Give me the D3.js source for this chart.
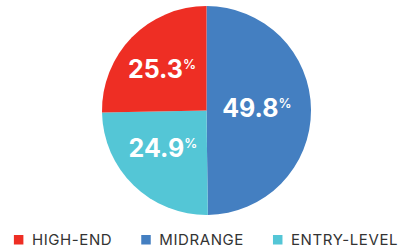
<!DOCTYPE html>
<html>
<head>
<meta charset="utf-8">
<script src="https://cdn.jsdelivr.net/npm/d3@7"></script>
<style>
	body { margin: 0; background: #fff; }
	svg { display: block; font-family: Inter, 'Noto Sans', sans-serif; }
</style>
</head>
<body>
<svg width="412" height="252"></svg>
<script>
const categories = ['MIDRANGE', 'ENTRY-LEVEL', 'HIGH-END']
const shares = [49.8, 24.9, 25.3]
const colors = ['#447fc1', '#54c6d6', '#ee2e24']
const legendOrder = ['HIGH-END', 'MIDRANGE', 'ENTRY-LEVEL']

const svg = d3.select('svg')
const width = 412
const cx = 206.5, cy = 110.5, r = 104.5

const color = d3.scaleOrdinal().domain(categories).range(colors)

const data = categories.map((c, i) => ({name: c, value: shares[i]}))

const pie = d3.pie()
	.sort(null)
	.value(d => d.value)

const arc = d3.arc().innerRadius(0).outerRadius(r)
const labelArc = d3.arc().innerRadius(0).outerRadius(r * 1.06)

const g = svg.append('g').attr('transform', `translate(${cx},${cy})`)

const arcs = pie(data)

g.selectAll('path')
	.data(arcs)
	.join('path')
	.attr('d', arc)
	.attr('fill', d => color(d.data.name))

// number is centred, the % hangs off to the right
const labels = g.selectAll('text.val')
	.data(arcs)
	.join('text')
	.attr('class', 'val')
	.attr('transform', d => {
		const [x, y] = labelArc.centroid(d)
		return `translate(${x - 5},${y + 1})`
	})
	.attr('text-anchor', 'middle')
	.attr('dy', '0.36em')
	.attr('fill', '#fff')
	.attr('font-weight', 700)

labels.append('tspan')
	.attr('font-size', 25)
	.text(d => d.data.value.toFixed(1))
labels.append('tspan')
	.attr('font-size', 13)
	.attr('font-weight', 600)
	.attr('dy', '-0.7em')
	.text('%')

// legend
const legend = svg.append('g').attr('transform', 'translate(0,240)')
const items = legend.selectAll('g')
	.data(legendOrder)
	.join('g')

items.append('rect')
	.attr('width', 9.5)
	.attr('height', 9.5)
	.attr('y', -5)
	.attr('fill', d => color(d))

items.append('text')
	.attr('x', 18)
	.attr('dy', '0.36em')
	.attr('font-size', 15)
	.attr('letter-spacing', 0.6)
	.attr('fill', '#333')
	.text(d => d)

let x = 0
const pos = []
items.each(function() {
	pos.push(x)
	x += this.getBBox().width + 29
})
const total = x - 29
const start = (width - total) / 2
items.attr('transform', (d, i) => `translate(${start + pos[i]},0)`)
</script>
</body>
</html>
